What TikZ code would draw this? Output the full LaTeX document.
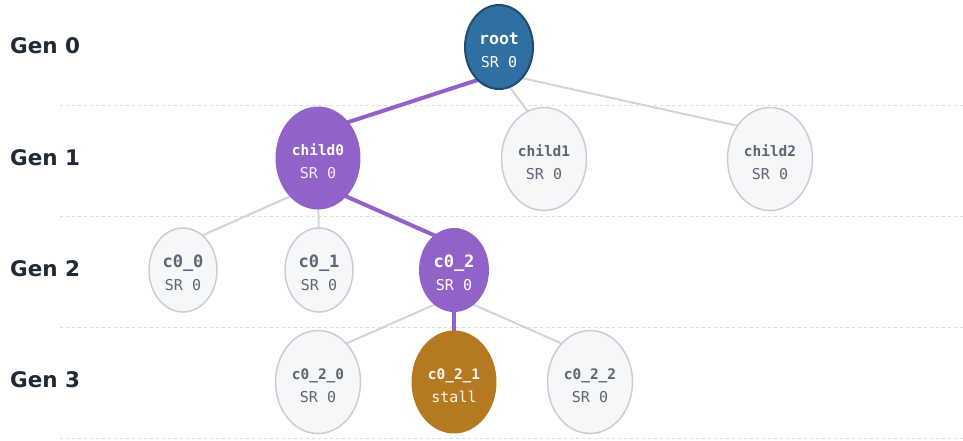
\documentclass[tikz,border=0pt]{standalone}
\usepackage{fontspec}
\setsansfont{DejaVu Sans}
\setmonofont{DejaVu Sans Mono}
\usetikzlibrary{shapes.geometric,calc,backgrounds}
\definecolor{rootblue}{HTML}{2F6FA1}
\definecolor{rootedge}{HTML}{1F4B73}
\definecolor{pathpurple}{HTML}{9163C9}
\definecolor{stallgold}{HTML}{B57A20}
\definecolor{idlefill}{HTML}{F6F7F9}
\definecolor{idleedge}{HTML}{C9CDD6}
\definecolor{idletext}{HTML}{5F6574}
\definecolor{greyline}{HTML}{D2D5DC}
\definecolor{genink}{HTML}{1F2937}
\definecolor{ruleline}{HTML}{D9DCE2}
% label size, label, second line
\newcommand{\gentext}[3]{\rule{0pt}{19pt}{\bfseries\fontsize{#1}{23}\selectfont #2}\\#3}

\begin{document}
\begin{tikzpicture}[x=1pt,y=-1pt]
        \tikzset{gen node/.style={ellipse,inner sep=0pt,align=center,
                font=\ttfamily\fontsize{15}{23}\selectfont},
            small gen/.style={gen node,minimum width=68pt,minimum height=84pt},
            big gen/.style={gen node,minimum width=85pt,minimum height=103pt},
            idle/.style={draw=idleedge,line width=1.5pt,fill=idlefill,text=idletext},
            onpath/.style={fill=pathpurple,text=white},
            gen label/.style={anchor=west,inner sep=0pt,text=genink,
                font=\sffamily\bfseries\fontsize{21.5}{24}\selectfont},
            plain edge/.style={draw=greyline,line width=2pt},
            path edge/.style={draw=pathpurple,line width=4pt}}
        \useasboundingbox (0,0) rectangle (963,440);
        \node[gen label] (gen0) at (10,46) {Gen 0};
        \node[gen label] (gen1) at (10,158) {Gen 1};
        \node[gen label] (gen2) at (10,269) {Gen 2};
        \node[gen label] (gen3) at (10,380) {Gen 3};
        % tree
        \node[small gen,fill=rootblue,draw=rootedge,line width=2pt,text=white] (root) at (499,47)
            {\gentext{16.5}{root}{SR 0}};
        \node[big gen,onpath] (child0) at (318,158)
            {\gentext{14.5}{child0}{\textcolor{white!88!pathpurple}{SR 0}}};
        \node[big gen,idle] (child1) at (544,159) {\gentext{14.5}{child1}{SR 0}};
        \node[big gen,idle] (child2) at (770,159) {\gentext{14.5}{child2}{SR 0}};
        \node[small gen,idle] (c00) at (183,270) {\gentext{17}{c0\_0}{SR 0}};
        \node[small gen,idle] (c01) at (319,270) {\gentext{17}{c0\_1}{SR 0}};
        \node[small gen,onpath,minimum width=70pt] (c02) at (454,270)
            {\gentext{17}{c0\_2}{SR 0}};
        \node[big gen,idle] (c020) at (318,382) {\gentext{14.5}{c0\_2\_0}{SR 0}};
        \node[big gen,fill=stallgold,text=white!92!stallgold] (c021) at (454,382)
            {\gentext{14.5}{c0\_2\_1}{stall}};
        \node[big gen,idle] (c022) at (590,382) {\gentext{14.5}{c0\_2\_2}{SR 0}};
        \begin{pgfonlayer}{background}
            % generation rows
            \foreach \y in {105,216,327,438}
                \draw[ruleline,line width=0.8pt,dash pattern=on 3pt off 3pt] (60,\y) -- (963,\y);
            % edges, behind the nodes
            \path[plain edge] ($(root)+(0,26)$) -- ($(child1)+(0,-26)$);
            \path[plain edge] ($(root)+(0,26)$) -- ($(child2)+(0,-26)$);
            \path[path edge] ($(root)+(0,26)$) -- ($(child0)+(0,-26)$);
            \path[plain edge] ($(child0)+(0,26)$) -- ($(c00)+(0,-26)$);
            \path[plain edge] ($(child0)+(0,26)$) -- ($(c01)+(0,-26)$);
            \path[path edge] ($(child0)+(0,26)$) -- ($(c02)+(0,-26)$);
            \path[plain edge] ($(c02)+(0,26)$) -- ($(c020)+(0,-26)$);
            \path[path edge] ($(c02)+(0,26)$) -- ($(c021)+(0,-26)$);
            \path[plain edge] ($(c02)+(0,26)$) -- ($(c022)+(0,-26)$);
        \end{pgfonlayer}
    \end{tikzpicture}
\end{document}
